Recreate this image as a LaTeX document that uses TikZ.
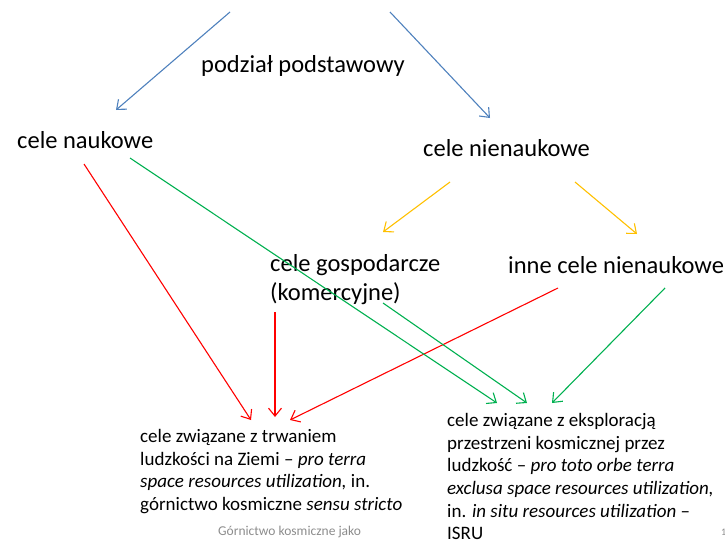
\documentclass[tikz,border=0pt]{standalone}
\usepackage{fontspec}
\setmainfont{Carlito}
\usetikzlibrary{arrows.meta}
\definecolor{cblue}{RGB}{79,129,189}
\definecolor{cyel}{RGB}{255,192,0}
\definecolor{cred}{RGB}{255,0,0}
\definecolor{cgreen}{RGB}{0,176,80}
\definecolor{cgray}{RGB}{140,140,140}
\begin{document}
\begin{tikzpicture}[x=1pt,y=-1pt,
  big/.style={inner sep=0pt,font=\fontsize{24.5}{29}\selectfont,align=left},
  small/.style={inner sep=0pt,font=\fontsize{19}{22.7}\selectfont,align=left},
  conn/.style={line width=1.1pt,-{Straight Barb[length=8pt,width=13pt,line width=1.1pt]}}]
\useasboundingbox (0,0) rectangle (725,541);
% text nodes
\node[big] (podzial) at (303,66) {podział podstawowy};
\node[big,anchor=west] (naukowe) at (17,140) {cele naukowe};
\node[big,anchor=west] (nienaukowe) at (423,148) {cele nienaukowe};
\node[big,anchor=north west] (gosp) at (270,254) {cele gospodarcze\\(komercyjne)};
\node[big,anchor=west] (inne) at (508,265) {inne cele nienaukowe};
\node[small,anchor=north west] (terra) at (140,429) {cele związane z trwaniem\\ludzkości na Ziemi – \textit{pro terra}\\\textit{space resources utilization,} in.\\górnictwo kosmiczne \textit{sensu stricto}};
\node[small,anchor=north west] (orbe) at (447,413) {cele związane z eksploracją\\przestrzeni kosmicznej przez\\ludzkość – \textit{pro toto orbe terra}\\\textit{exclusa space resources utilization,}\\in. \textit{in situ resources utilization} –\\ISRU};
\node[inner sep=0pt,anchor=west,text=cgray,font=\fontsize{13.5}{16}\selectfont] (footer) at (218,532) {Górnictwo kosmiczne jako};
\node[inner sep=0pt,anchor=west,text=cgray,font=\fontsize{10}{12}\selectfont] (pagenum) at (721,532) {1};
% connector end points
\coordinate (b1s) at (230,12);  \coordinate (b1e) at (116,110);
\coordinate (b2s) at (390,12);  \coordinate (b2e) at (490,118);
\coordinate (y1s) at (450,182); \coordinate (y1e) at (383,232);
\coordinate (y2s) at (575,182); \coordinate (y2e) at (637,234);
\coordinate (r1s) at (84,164);  \coordinate (r1e) at (251,420);
\coordinate (r2s) at (275,312); \coordinate (r2e) at (275,417);
\coordinate (r3s) at (558,288); \coordinate (r3e) at (290,420);
\coordinate (g1s) at (130,158); \coordinate (g1e) at (497,403);
\coordinate (g2s) at (383,303); \coordinate (g2e) at (527,403);
\coordinate (g3s) at (665,288); \coordinate (g3e) at (552,403);
% connectors
\draw[conn,cblue] (b1s) -- (b1e);
\draw[conn,cblue] (b2s) -- (b2e);
\draw[conn,cyel] (y1s) -- (y1e);
\draw[conn,cyel] (y2s) -- (y2e);
\draw[conn,cred] (r1s) -- (r1e);
\draw[conn,cred] (r2s) -- (r2e);
\draw[conn,cred] (r3s) -- (r3e);
\draw[conn,cgreen] (g1s) -- (g1e);
\draw[conn,cgreen] (g2s) -- (g2e);
\draw[conn,cgreen] (g3s) -- (g3e);
\end{tikzpicture}
\end{document}
